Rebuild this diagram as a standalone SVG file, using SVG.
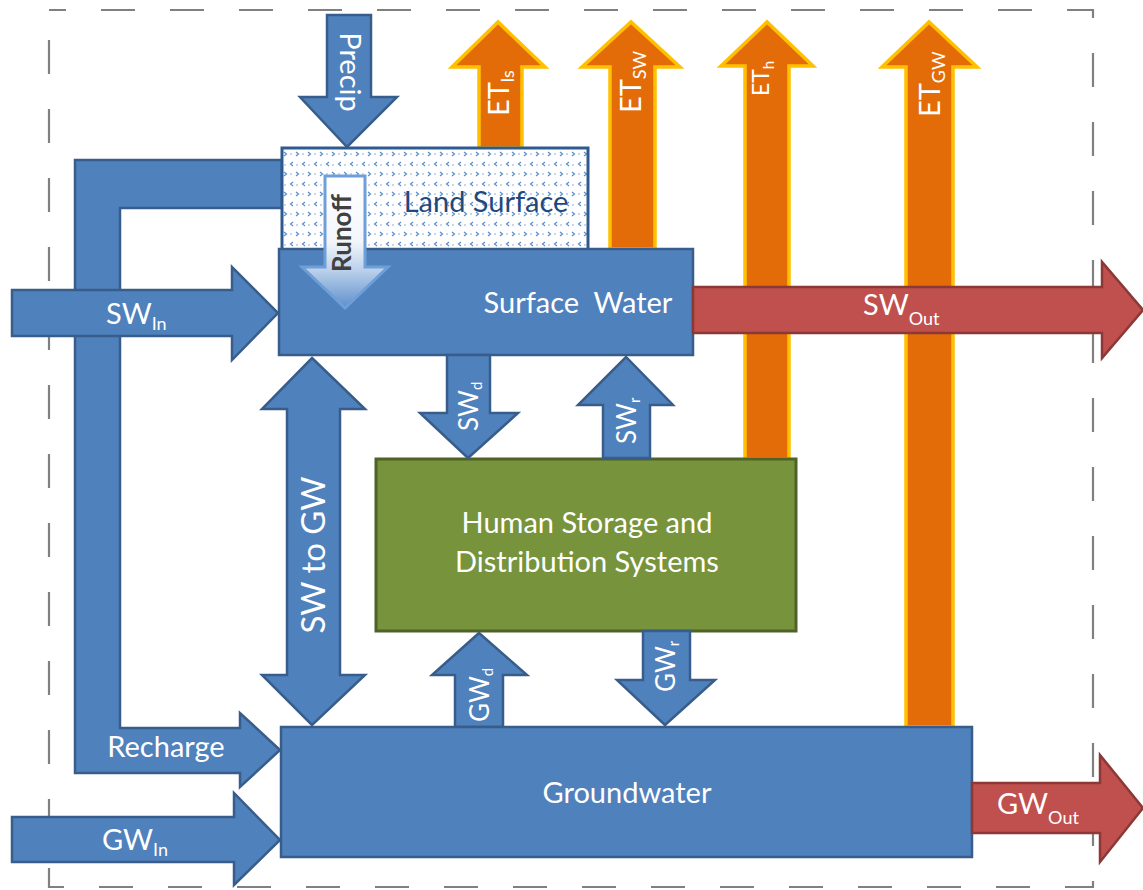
<svg xmlns="http://www.w3.org/2000/svg" width="1143" height="890" viewBox="0 0 1143 890">
<defs>
<style>
.blue{fill:#4F81BD;stroke:#385D8A;stroke-width:2.5;stroke-linejoin:miter}
.red{fill:#C0504D;stroke:#8C3836;stroke-width:2.5}
.orange{fill:#E36C09;stroke:#FFC000;stroke-width:3.5}
.green{fill:#77933C;stroke:#4F6228;stroke-width:3}
.t{font-family:Lato,"Open Sans","Liberation Sans",sans-serif;fill:#FFFFFF;font-size:29px}
.sub{font-size:18px}
.frame{fill:none;stroke:#808080;stroke-width:2.2;stroke-dasharray:34 35;stroke-dashoffset:17}
</style>
<pattern id="confetti" width="12" height="20" patternUnits="userSpaceOnUse">
<rect width="12" height="20" fill="#FFFFFF"/>
<path d="M5 2 L2.5 4 L5 6" fill="none" stroke="#5A8CCB" stroke-width="1.2"/>
<path d="M8 12 L10.5 14 L8 16" fill="none" stroke="#5A8CCB" stroke-width="1.2"/>
<circle cx="9" cy="5" r="0.8" fill="#7FA7DA"/>
<circle cx="3" cy="14" r="0.8" fill="#7FA7DA"/>
</pattern>
<linearGradient id="runoffGrad" x1="0" y1="0" x2="0" y2="1">
<stop offset="0" stop-color="#FFFFFF"/>
<stop offset="0.5" stop-color="#F2F6FB"/>
<stop offset="0.72" stop-color="#B9CFEA"/>
<stop offset="1" stop-color="#5E8FCB"/>
</linearGradient>
</defs>

<rect id="frame" class="frame" x="49" y="10" width="1044" height="877"/>

<g id="connectors">
<g id="recharge">
<polygon class="blue" points="282,160 75,160 75,773 240,773 240,787 280,750 240,713 240,728 120,728 120,208 282,208"/>
<text class="t" x="166" y="757" text-anchor="middle">Recharge</text>
</g>
<g id="sw-in">
<polygon class="blue" points="12,290 232,290 232,267 278,313 232,360 232,336 12,336"/>
<text class="t" x="106" y="324">SW<tspan class="sub" dy="6">In</tspan></text>
</g>
<g id="gw-in">
<polygon class="blue" points="12,817 234,817 234,793 280,840 234,885 234,862 12,862"/>
<text class="t" x="102" y="850">GW<tspan class="sub" dy="6">In</tspan></text>
</g>
<g id="et-ls">
<polygon class="orange" points="479,148 479,67 452,67 498,22 545,67 522,67 522,148"/>
<text class="t" transform="translate(509,116) rotate(-90)">ET<tspan class="sub" dy="5">ls</tspan></text>
</g>
<g id="et-sw">
<polygon class="orange" points="610,249 610,67 582,67 631,22 680,67 655,67 655,249"/>
<text class="t" transform="translate(641,113) rotate(-90)">ET<tspan class="sub" dy="5">SW</tspan></text>
</g>
<g id="et-h">
<polygon class="orange" points="745,459 745,66 721,66 767,22 813,66 789,66 789,459"/>
<text class="t" style="font-size:23px" transform="translate(769,96) rotate(-90)">ET<tspan class="sub" style="font-size:15px" dy="5">h</tspan></text>
</g>
<g id="et-gw">
<polygon class="orange" points="906,727 906,67 882,67 929,22 977,67 953,67 953,727"/>
<text class="t" transform="translate(940,117) rotate(-90)">ET<tspan class="sub" dy="5">GW</tspan></text>
</g>
</g>

<g id="land-surface">
<rect x="282" y="148" width="306" height="102" fill="url(#confetti)" stroke="#2F5A8F" stroke-width="3"/>
<text class="t" x="486" y="212" text-anchor="middle" style="fill:#1F497D">Land Surface</text>
</g>

<g id="surface-water">
<rect class="blue" x="279" y="249" width="414" height="106"/>
<text class="t" x="578" y="313" text-anchor="middle">Surface&#160; Water</text>
</g>

<g id="runoff">
<polygon points="325,176 365,176 365,267 388,267 345,308 302,267 325,267" fill="url(#runoffGrad)" stroke="#6E9FD8" stroke-width="3"/>
<text class="t" transform="translate(351,233) rotate(-90)" text-anchor="middle" style="fill:#404040;font-weight:bold;font-size:26px">Runoff</text>
</g>

<g id="precip">
<polygon class="blue" points="327,15 371,15 371,97 397,97 347,147 300,97 327,97"/>
<text class="t" transform="translate(340,72) rotate(90)" text-anchor="middle">Precip</text>
</g>

<g id="sw-out">
<polygon class="red" points="693,287 1102,287 1102,262 1143,310 1102,358 1102,333 693,333"/>
<text class="t" x="863" y="315">SW<tspan class="sub" dy="10">Out</tspan></text>
</g>

<g id="human-storage">
<rect class="green" x="376" y="459" width="420" height="172"/>
<text class="t" x="587" y="533" text-anchor="middle">Human Storage and</text>
<text class="t" x="587" y="572" text-anchor="middle">Distribution Systems</text>
</g>

<g id="flows">
<g id="sw-d">
<polygon class="blue" points="447,355 490,355 490,413 518,413 468,458 420,413 447,413"/>
<text class="t" style="font-size:26px" transform="translate(478,431) rotate(-90)">SW<tspan style="font-size:15px" dy="4">d</tspan></text>
</g>
<g id="sw-r">
<polygon class="blue" points="603,458 650,458 650,405 673,405 626,357 578,405 603,405"/>
<text class="t" style="font-size:26px" transform="translate(636,444) rotate(-90)">SW<tspan style="font-size:15px" dy="4">r</tspan></text>
</g>
<g id="gw-d">
<polygon class="blue" points="455,727 503,727 503,675 527,675 479,633 432,675 455,675"/>
<text class="t" style="font-size:26px" transform="translate(489,722) rotate(-90)">GW<tspan style="font-size:15px" dy="4">d</tspan></text>
</g>
<g id="gw-r">
<polygon class="blue" points="643,631 690,631 690,680 715,680 665,725 617,680 643,680"/>
<text class="t" style="font-size:26px" transform="translate(675,692) rotate(-90)">GW<tspan style="font-size:15px" dy="4">r</tspan></text>
</g>
<g id="sw-to-gw">
<polygon class="blue" points="312,358 365,409 340,409 340,675 365,675 312,725 262,675 287,675 287,409 262,409"/>
<text class="t" style="font-size:33px" transform="translate(325,555) rotate(-90)" text-anchor="middle">SW to GW</text>
</g>
</g>

<g id="groundwater">
<rect class="blue" x="281" y="727" width="691" height="130"/>
<text class="t" x="627" y="803" text-anchor="middle">Groundwater</text>
</g>

<g id="gw-out">
<polygon class="red" points="972,783 1100,783 1100,755 1143,808 1100,862 1100,833 972,833"/>
<text class="t" x="997" y="814">GW<tspan class="sub" dy="10">Out</tspan></text>
</g>
</svg>
